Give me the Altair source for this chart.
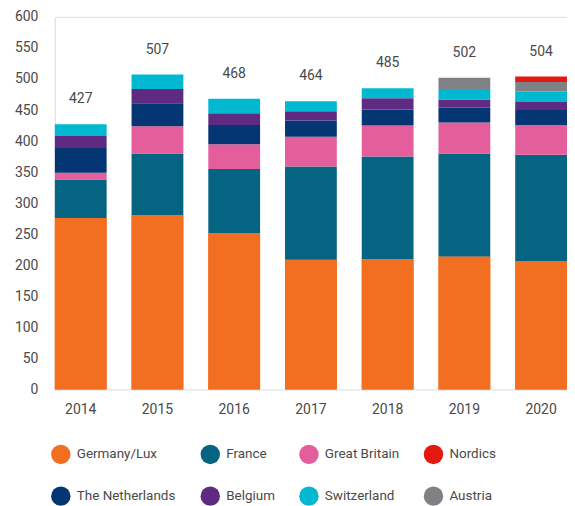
import altair as alt
import pandas as pd

years = ["2014", "2015", "2016", "2017", "2018", "2019", "2020"]
totals = [427, 507, 468, 464, 485, 502, 504]

# stacked bottom -> top
germany = [276, 281, 252, 209, 210, 214, 207]
france = [62, 99, 103, 150, 165, 166, 171]
great_britain = [11, 44, 40, 48, 50, 50, 48]
netherlands = [40, 37, 31, 26, 26, 24, 24]
belgium = [19, 23, 19, 15, 18, 13, 13]
switzerland = [19, 23, 23, 16, 16, 17, 17]
austria = [0, 0, 0, 0, 0, 18, 15]
nordics = [0, 0, 0, 0, 0, 0, 9]

y_ticks = list(range(0, 601, 50))

stack_names = ["Germany/Lux", "France", "Great Britain", "The Netherlands",
               "Belgium", "Switzerland", "Austria", "Nordics"]
stack_values = [germany, france, great_britain, netherlands,
                belgium, switzerland, austria, nordics]

legend_order = ["Germany/Lux", "France", "Great Britain", "Nordics",
                "The Netherlands", "Belgium", "Switzerland", "Austria"]
legend_colors = ["#F26F21", "#046482", "#E45E9B", "#E3190F",
                 "#033672", "#5F2A82", "#00B8CF", "#808184"]

rows = []
for k, (name, vals) in enumerate(zip(stack_names, stack_values)):
    for y, v in zip(years, vals):
        if v > 0:
            rows.append({"year": y, "country": name, "value": v, "order": k})
df = pd.DataFrame(rows)
df_ger = pd.DataFrame({"year": years, "value": germany})
df_tot = pd.DataFrame({"year": years, "total": totals})

TXT = "#4A4A4A"

x_enc = alt.X("year:N", title=None,
              scale=alt.Scale(paddingInner=0.325, paddingOuter=0),
              axis=alt.Axis(labelAngle=0, labelAlign="center", domain=False,
                            ticks=False, labelPadding=13, labelFontSize=14,
                            labelColor=TXT))

y_axis = alt.Axis(values=y_ticks, grid=False, domain=False, ticks=False,
                  labelPadding=17, labelOverlap=False, labelFontSize=14,
                  labelColor=TXT)
y_scale = alt.Scale(domain=[0, 600])

bars = alt.Chart(df).mark_bar().encode(
    x=x_enc,
    y=alt.Y("value:Q", stack="zero", title=None, scale=y_scale, axis=y_axis),
    color=alt.Color("country:N",
                    scale=alt.Scale(domain=legend_order, range=legend_colors),
                    legend=alt.Legend(title=None, orient="none", legendX=-4,
                                      legendY=429, columns=4,
                                      direction="horizontal",
                                      symbolType="circle",
                                      symbolSize=380, symbolStrokeWidth=0,
                                      labelFontSize=13.5, labelColor=TXT,
                                      labelOffset=6, rowPadding=22,
                                      columnPadding=24, padding=0)),
    order=alt.Order("order:Q"),
)

ger_base = alt.Chart(df_ger).mark_bar(color="#F26F21").encode(
    x=x_enc,
    y=alt.Y("value:Q", title=None, scale=y_scale, axis=y_axis),
    y2=alt.value(381))

labels = alt.Chart(df_tot).mark_text(dy=-25, fontSize=14, color=TXT).encode(
    x=x_enc,
    y=alt.Y("total:Q", title=None, scale=y_scale, axis=y_axis),
    text="total:Q")

chart = alt.layer(ger_base, bars, labels).properties(
    width=514, height=374,
    padding={"left": 6, "top": 1, "right": 0, "bottom": 0},
).configure_view(stroke=None).configure(font="Roboto")

chart.save("out.html", embed_options={"renderer": "svg", "actions": False})
